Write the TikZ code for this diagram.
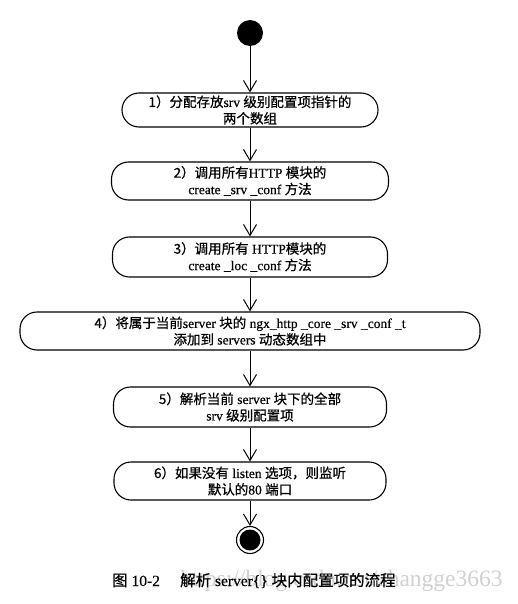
\documentclass[tikz,border=0pt]{standalone}
\usepackage{fontspec}
\setmainfont{Liberation Serif}[FakeBold=0.4]
\newfontfamily\cjk{Noto Sans CJK SC}[FakeBold=0.7]
\newfontfamily\wmfont{Liberation Serif}
\newcommand\zh[1]{{\cjk #1}}
\usetikzlibrary{arrows.meta}
\begin{document}
\begin{tikzpicture}[x=1pt,y=-1pt,
  stepbox/.style={draw, line width=1.1pt, rounded corners=17pt, minimum height=#1, align=center,
     inner sep=0pt, font=\fontsize{13.5}{16.5}\selectfont},
  flow/.style={draw, line width=1pt, -{Straight Barb[length=11pt,width=13pt,line width=1pt]}},
  ]
\useasboundingbox (0,0) rectangle (518,604);
\node[anchor=base west, text=black!18, inner sep=0pt, font=\wmfont\fontsize{23.5}{23.5}\selectfont] (wm) at (180,586) {https://blog.csdn.net/zhangge3663};
\node[circle, fill=black, minimum size=26pt, inner sep=0pt] (start) at (250,33) {};
\node[stepbox=34pt, minimum width=256pt] (s1) at (250,110)
  {\zh{1）分配存放}srv \zh{级别配置项指针的}\\\zh{两个数组}};
\node[stepbox=38pt, minimum width=277pt] (s2) at (250,181)
  {\zh{2）调用所有}HTTP \zh{模块的}\\create \_srv \_conf \zh{方法}};
\node[stepbox=40pt, minimum width=275pt] (s3) at (250,257)
  {\zh{3）调用所有} HTTP\zh{模块的}\\create \_loc \_conf \zh{方法}};
\node[stepbox=38pt, minimum width=460pt] (s4) at (250,331)
  {\zh{4）将属于当前}server \zh{块的} ngx\_http \_core \_srv \_conf \_t\\\zh{添加到} servers \zh{动态数组中}};
\node[stepbox=40pt, minimum width=273pt] (s5) at (250,407)
  {\zh{5）解析当前} server \zh{块下的全部}\\srv \zh{级别配置项}};
\node[stepbox=38pt, minimum width=272pt] (s6) at (250,481)
  {\zh{6）如果没有} listen \zh{选项，则监听}\\\zh{默认的}80 \zh{端口}};
\node[circle, draw, line width=1.1pt, minimum size=27pt, inner sep=0pt] (end) at (250,540) {};
\fill (end.center) circle (10.5pt);
\draw[flow] (start) -- (s1);
\draw[flow] (s1) -- (s2);
\draw[flow] (s2) -- (s3);
\draw[flow] (s3) -- (s4);
\draw[flow] (s4) -- (s5);
\draw[flow] (s5) -- (s6);
\draw[flow] (s6) -- (end);
\node[anchor=base west, inner sep=0pt, font=\fontsize{15.5}{15.5}\selectfont] (cap) at (112,586)
  {\zh{图} 10-2\hspace{1.3em}\zh{解析} server\{\} \zh{块内配置项的流程}};
\end{tikzpicture}
\end{document}
